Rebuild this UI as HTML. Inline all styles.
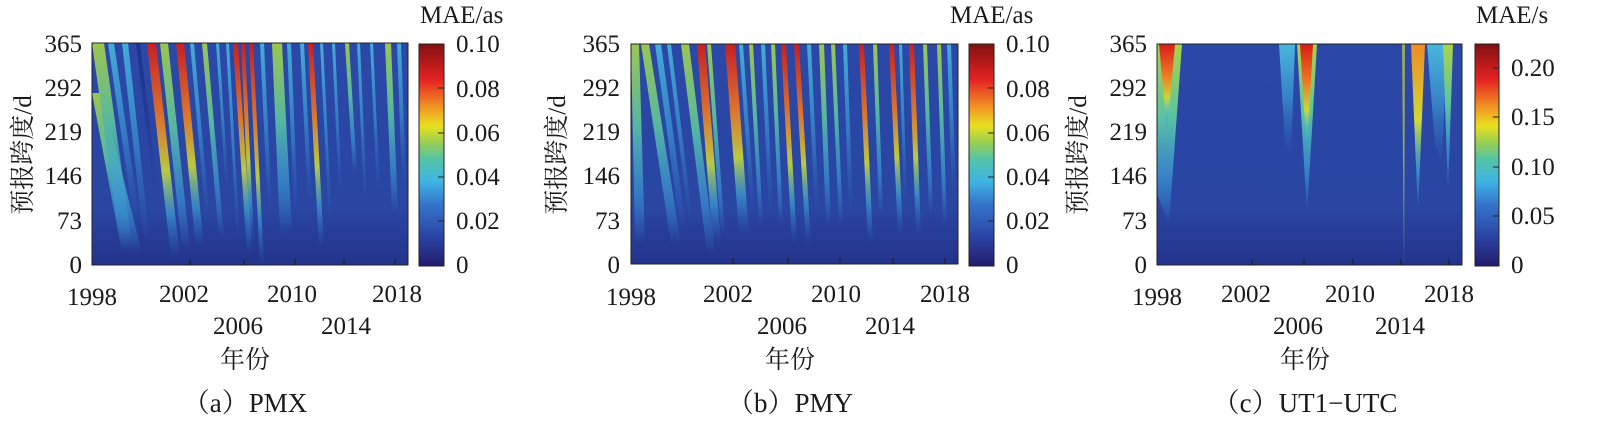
<!DOCTYPE html>
<html><head><meta charset="utf-8"><style>
html,body{margin:0;padding:0;background:#fff;}
svg{display:block;}
svg text{font-family:"Liberation Serif","Times New Roman",Times,serif;fill:#1a1a1a;}
svg text.cj{font-family:"Liberation Serif","Noto Serif CJK SC","Noto Sans CJK SC",serif;}
</style></head><body>
<svg width="1600" height="425" viewBox="0 0 1600 425" xmlns="http://www.w3.org/2000/svg">
<defs>
<linearGradient id="bg" x1="0" y1="0" x2="0" y2="1"><stop offset="0" stop-color="#2b48a8"/><stop offset="0.75" stop-color="#2a45a2"/><stop offset="1" stop-color="#23338c"/></linearGradient>
<linearGradient id="jet" x1="0" y1="1" x2="0" y2="0">
<stop offset="0" stop-color="#221c6a"/><stop offset="0.12" stop-color="#2b40a0"/><stop offset="0.28" stop-color="#3476cc"/><stop offset="0.38" stop-color="#3fb4e4"/><stop offset="0.48" stop-color="#52c4a8"/><stop offset="0.56" stop-color="#9cd050"/><stop offset="0.63" stop-color="#e8e020"/><stop offset="0.72" stop-color="#f29024"/><stop offset="0.84" stop-color="#e42222"/><stop offset="1" stop-color="#821010"/></linearGradient>
<linearGradient id="gR" x1="0" y1="0" x2="0" y2="1"><stop offset="0" stop-color="#d81c18"/><stop offset="0.35" stop-color="#ee7a22"/><stop offset="0.6" stop-color="#c8d838"/><stop offset="0.8" stop-color="#40b8e0" stop-opacity="0.6"/><stop offset="1" stop-color="#3a80d0" stop-opacity="0"/></linearGradient>
<linearGradient id="gO" x1="0" y1="0" x2="0" y2="1"><stop offset="0" stop-color="#f08a24"/><stop offset="0.45" stop-color="#d0d838"/><stop offset="0.75" stop-color="#40b8e0" stop-opacity="0.6"/><stop offset="1" stop-color="#40b8e0" stop-opacity="0"/></linearGradient>
<linearGradient id="gY" x1="0" y1="0" x2="0" y2="1"><stop offset="0" stop-color="#a8d448"/><stop offset="0.4" stop-color="#5cc4a0"/><stop offset="0.75" stop-color="#40a8e0" stop-opacity="0.6"/><stop offset="1" stop-color="#40b0e0" stop-opacity="0"/></linearGradient>
<linearGradient id="gC" x1="0" y1="0" x2="0" y2="1"><stop offset="0" stop-color="#48b8dc"/><stop offset="0.5" stop-color="#3a90d0" stop-opacity="0.8"/><stop offset="1" stop-color="#3070c0" stop-opacity="0"/></linearGradient>
<linearGradient id="gD" x1="0" y1="0" x2="0" y2="1"><stop offset="0" stop-color="#1f2f88"/><stop offset="1" stop-color="#1f2f88" stop-opacity="0"/></linearGradient>
<clipPath id="ca"><rect x="0" y="0" width="316" height="222"/></clipPath>
<clipPath id="cb"><rect x="0" y="0" width="327" height="220"/></clipPath>
<clipPath id="cc"><rect x="0" y="0" width="305" height="221"/></clipPath>
</defs>

<!-- Panel A -->
<g transform="translate(92,43)" clip-path="url(#ca)">
<rect width="316" height="222" fill="url(#bg)"/>
<g opacity="0.9">
<polygon points="0,50 10,50 50,210 30,210" fill="url(#gY)"/>
<polygon points="0,0 12,0 40,200 28,200" fill="url(#gY)"/>
<polygon points="16,0 22,0 48,180 42,180" fill="url(#gC)"/>
<polygon points="30,0 36,0 58,200 52,200" fill="url(#gC)"/>
<polygon points="44,0 48,0 66,150 62,150" fill="url(#gD)"/>
<polygon points="55,0 64,0 88,215 79,215" fill="url(#gR)"/>
<polygon points="68,0 76,0 98,205 90,205" fill="url(#gY)"/>
<polygon points="84,0 92,0 112,205 104,205" fill="url(#gR)"/>
<polygon points="98,0 102,0 118,180 114,180" fill="url(#gC)"/>
<polygon points="110,0 115,0 132,195 127,195" fill="url(#gY)"/>
<polygon points="124,0 127,0 137,150 134,150" fill="url(#gC)"/>
<polygon points="134,0 137,0 148,200 145,200" fill="url(#gC)"/>
<polygon points="141,0 146,0 160,212 155,212" fill="url(#gR)"/>
<polygon points="149,0 153,0 162,200 158,200" fill="url(#gR)"/>
<polygon points="157,0 161,0 172,222 168,222" fill="url(#gR)"/>
<polygon points="168,0 172,0 180,170 176,170" fill="url(#gC)"/>
<polygon points="180,0 190,0 200,190 188,190" fill="url(#gY)"/>
<polygon points="195,0 199,0 206,170 202,170" fill="url(#gC)"/>
<polygon points="208,0 212,0 220,160 216,160" fill="url(#gC)"/>
<polygon points="216,0 221,0 232,205 227,205" fill="url(#gR)"/>
<polygon points="228,0 231,0 240,180 237,180" fill="url(#gC)"/>
<polygon points="240,0 243,0 250,150 247,150" fill="url(#gC)"/>
<polygon points="253,0 257,0 265,130 261,130" fill="url(#gY)"/>
<polygon points="265,0 268,0 275,160 272,160" fill="url(#gC)"/>
<polygon points="278,0 281,0 288,150 285,150" fill="url(#gC)"/>
<polygon points="293,0 299,0 306,170 300,170" fill="url(#gY)"/>
<polygon points="305,0 309,0 314,140 310,140" fill="url(#gC)"/>
</g>
</g>
<rect x="92" y="43" width="316" height="222" fill="none" stroke="#222" stroke-width="1"/>
<g stroke="#222" stroke-width="1.2">
<line x1="190" y1="265" x2="190" y2="259"/><line x1="244" y1="265" x2="244" y2="259"/><line x1="295" y1="265" x2="295" y2="259"/><line x1="344" y1="265" x2="344" y2="259"/><line x1="395" y1="265" x2="395" y2="259"/>
</g>
<g font-size="25" text-anchor="end">
<text x="82" y="52">365</text><text x="82" y="96">292</text><text x="82" y="140">219</text><text x="82" y="184">146</text><text x="82" y="229">73</text><text x="82" y="273">0</text>
</g>
<g font-size="25" text-anchor="middle">
<text x="92" y="305">1998</text><text x="184" y="302">2002</text><text x="238" y="334">2006</text><text x="292" y="302">2010</text><text x="346" y="334">2014</text><text x="397" y="302">2018</text>
</g>
<text class="cj" x="0" y="0" font-size="25" text-anchor="middle" transform="translate(31,155) rotate(-90)">预报跨度/d</text>
<text class="cj" x="245" y="368" font-size="25" text-anchor="middle">年份</text>
<text class="cj" x="245" y="412" font-size="27" text-anchor="middle">（a）PMX</text>
<rect x="419" y="44" width="25" height="222" fill="url(#jet)" stroke="#222" stroke-width="1"/>
<g stroke="#222"><line x1="438" y1="88" x2="444" y2="88"/><line x1="438" y1="133" x2="444" y2="133"/><line x1="438" y1="177" x2="444" y2="177"/><line x1="438" y1="221" x2="444" y2="221"/></g>
<g font-size="25"><text x="456" y="52">0.10</text><text x="456" y="97">0.08</text><text x="456" y="141">0.06</text><text x="456" y="185">0.04</text><text x="456" y="229">0.02</text><text x="456" y="273">0</text></g>
<text x="420" y="23" font-size="25">MAE/as</text>

<!-- Panel B -->
<g transform="translate(631,44)" clip-path="url(#cb)">
<rect width="327" height="220" fill="url(#bg)"/>
<g opacity="0.9">
<polygon points="0,0 8,0 14,200 4,200" fill="url(#gY)"/>
<polygon points="10,0 18,0 50,200 40,200" fill="url(#gY)"/>
<polygon points="24,0 30,0 56,190 50,190" fill="url(#gC)"/>
<polygon points="36,0 40,0 62,180 58,180" fill="url(#gC)"/>
<polygon points="50,0 58,0 84,210 76,210" fill="url(#gY)"/>
<polygon points="66,0 74,0 90,200 82,200" fill="url(#gR)"/>
<polygon points="76,0 80,0 94,190 90,190" fill="url(#gY)"/>
<polygon points="94,0 104,0 118,190 108,190" fill="url(#gR)"/>
<polygon points="108,0 112,0 124,170 120,170" fill="url(#gC)"/>
<polygon points="118,0 122,0 132,180 128,180" fill="url(#gY)"/>
<polygon points="130,0 134,0 142,170 138,170" fill="url(#gC)"/>
<polygon points="140,0 144,0 152,180 148,180" fill="url(#gY)"/>
<polygon points="150,0 155,0 166,200 161,200" fill="url(#gR)"/>
<polygon points="163,0 168,0 180,200 175,200" fill="url(#gR)"/>
<polygon points="176,0 180,0 188,170 184,170" fill="url(#gC)"/>
<polygon points="188,0 193,0 200,180 195,180" fill="url(#gY)"/>
<polygon points="200,0 204,0 212,180 208,180" fill="url(#gY)"/>
<polygon points="212,0 216,0 222,170 218,170" fill="url(#gC)"/>
<polygon points="228,0 233,0 242,200 237,200" fill="url(#gR)"/>
<polygon points="242,0 246,0 252,170 248,170" fill="url(#gY)"/>
<polygon points="258,0 263,0 272,190 267,190" fill="url(#gR)"/>
<polygon points="268,0 271,0 276,160 273,160" fill="url(#gC)"/>
<polygon points="278,0 283,0 290,190 285,190" fill="url(#gR)"/>
<polygon points="292,0 296,0 302,170 298,170" fill="url(#gY)"/>
<polygon points="306,0 310,0 316,180 312,180" fill="url(#gY)"/>
<polygon points="316,0 320,0 325,150 321,150" fill="url(#gC)"/>
</g>
</g>
<rect x="631" y="44" width="327" height="220" fill="none" stroke="#222" stroke-width="1"/>
<g stroke="#222" stroke-width="1.2">
<line x1="733" y1="264" x2="733" y2="258"/><line x1="788" y1="264" x2="788" y2="258"/><line x1="840" y1="264" x2="840" y2="258"/><line x1="893" y1="264" x2="893" y2="258"/><line x1="945" y1="264" x2="945" y2="258"/>
</g>
<g font-size="25" text-anchor="end">
<text x="620" y="52">365</text><text x="620" y="96">292</text><text x="620" y="140">219</text><text x="620" y="184">146</text><text x="620" y="229">73</text><text x="620" y="273">0</text>
</g>
<g font-size="25" text-anchor="middle">
<text x="631" y="305">1998</text><text x="728" y="302">2002</text><text x="782" y="334">2006</text><text x="836" y="302">2010</text><text x="890" y="334">2014</text><text x="945" y="302">2018</text>
</g>
<text class="cj" x="0" y="0" font-size="25" text-anchor="middle" transform="translate(565,155) rotate(-90)">预报跨度/d</text>
<text class="cj" x="790" y="368" font-size="25" text-anchor="middle">年份</text>
<text class="cj" x="790" y="412" font-size="27" text-anchor="middle">（b）PMY</text>
<rect x="969" y="44" width="25" height="222" fill="url(#jet)" stroke="#222" stroke-width="1"/>
<g stroke="#222"><line x1="988" y1="88" x2="994" y2="88"/><line x1="988" y1="133" x2="994" y2="133"/><line x1="988" y1="177" x2="994" y2="177"/><line x1="988" y1="221" x2="994" y2="221"/></g>
<g font-size="25"><text x="1006" y="52">0.10</text><text x="1006" y="97">0.08</text><text x="1006" y="141">0.06</text><text x="1006" y="185">0.04</text><text x="1006" y="229">0.02</text><text x="1006" y="273">0</text></g>
<text x="950" y="23" font-size="25">MAE/as</text>

<!-- Panel C -->
<g transform="translate(1157,44)" clip-path="url(#cc)">
<rect width="305" height="221" fill="url(#bg)"/>
<polygon points="0,0 25,0 12,180 0,150" fill="url(#gY)"/>
<polygon points="2,0 18,0 10,90" fill="url(#gR)"/>
<polygon points="122,0 138,0 134,110 128,100" fill="url(#gC)"/>
<polygon points="140,0 160,0 150,170" fill="url(#gY)"/>
<polygon points="143,0 156,0 150,110" fill="url(#gR)"/>
<polygon points="245,0 248,0 247,221" fill="#c8d040" opacity="0.7"/>
<polygon points="254,0 268,0 261,170" fill="url(#gO)"/>
<polygon points="270,0 290,0 285,120 278,100" fill="url(#gC)"/>
<polygon points="286,0 296,0 291,150" fill="url(#gY)"/>
</g>
<rect x="1157" y="44" width="305" height="221" fill="none" stroke="#222" stroke-width="1"/>
<g stroke="#222" stroke-width="1.2">
<line x1="1252" y1="265" x2="1252" y2="259"/><line x1="1304" y1="265" x2="1304" y2="259"/><line x1="1353" y1="265" x2="1353" y2="259"/><line x1="1401" y1="265" x2="1401" y2="259"/><line x1="1449" y1="265" x2="1449" y2="259"/>
</g>
<g font-size="25" text-anchor="end">
<text x="1147" y="52">365</text><text x="1147" y="96">292</text><text x="1147" y="140">219</text><text x="1147" y="184">146</text><text x="1147" y="229">73</text><text x="1147" y="273">0</text>
</g>
<g font-size="25" text-anchor="middle">
<text x="1157" y="305">1998</text><text x="1246" y="302">2002</text><text x="1298" y="334">2006</text><text x="1350" y="302">2010</text><text x="1400" y="334">2014</text><text x="1449" y="302">2018</text>
</g>
<text class="cj" x="0" y="0" font-size="25" text-anchor="middle" transform="translate(1086,155) rotate(-90)">预报跨度/d</text>
<text class="cj" x="1305" y="368" font-size="25" text-anchor="middle">年份</text>
<text class="cj" x="1305" y="412" font-size="27" text-anchor="middle">（c）UT1−UTC</text>
<rect x="1475" y="44" width="24" height="222" fill="url(#jet)" stroke="#222" stroke-width="1"/>
<g stroke="#222"><line x1="1493" y1="68" x2="1499" y2="68"/><line x1="1493" y1="117" x2="1499" y2="117"/><line x1="1493" y1="167" x2="1499" y2="167"/><line x1="1493" y1="216" x2="1499" y2="216"/></g>
<g font-size="25"><text x="1511" y="76">0.20</text><text x="1511" y="125">0.15</text><text x="1511" y="175">0.10</text><text x="1511" y="224">0.05</text><text x="1511" y="273">0</text></g>
<text x="1476" y="23" font-size="25">MAE/s</text>
</svg>
</body></html>
